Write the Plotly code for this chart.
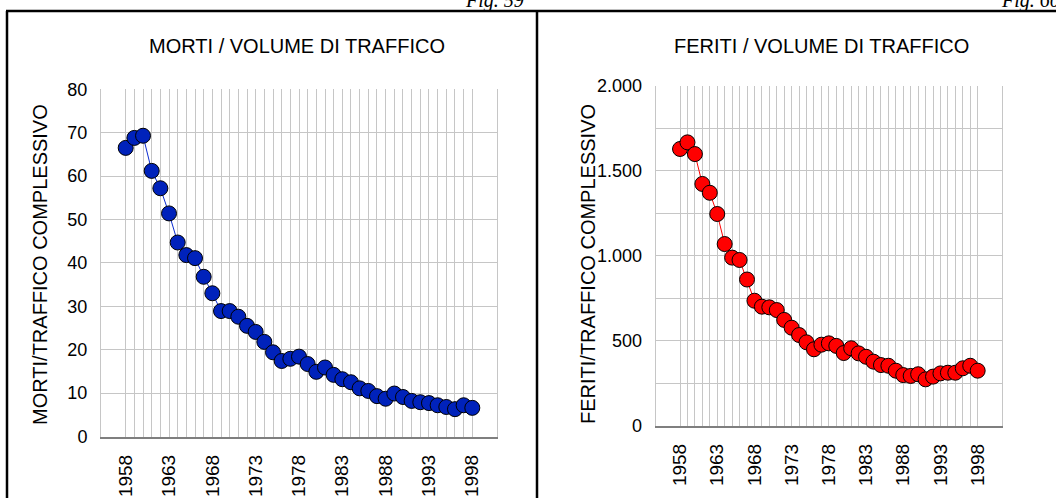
import plotly.graph_objects as go

# ---------------- data ----------------
years = list(range(1958, 1999))
morti = [66.5, 68.8, 69.3, 61.2, 57.2, 51.4, 44.7, 41.8, 41.1, 36.8,
         33.0, 28.9, 28.9, 27.6, 25.5, 24.1, 21.8, 19.4, 17.4, 17.9,
         18.4, 16.7, 14.9, 15.9, 14.2, 13.2, 12.5, 11.1, 10.5, 9.3,
         8.7, 9.9, 9.1, 8.2, 7.9, 7.7, 7.2, 6.8, 6.3, 7.2, 6.6]
feriti = [1629, 1668, 1599, 1423, 1371, 1246, 1069, 989, 975, 860,
          735, 700, 696, 680, 622, 576, 533, 490, 449, 476,
          484, 469, 427, 455, 425, 405, 376, 356, 352, 323,
          297, 292, 302, 272, 288, 307, 311, 311, 337, 352, 323]
x_tick_text = [str(y) if (y - 1958) % 5 == 0 else "" for y in years]
left_title = "MORTI / VOLUME DI TRAFFICO"
right_title = "FERITI / VOLUME DI TRAFFICO"
left_ytitle = "MORTI/TRAFFICO COMPLESSIVO"
right_ytitle = "FERITI/TRAFFICO COMPLESSIVO"
fig_labels = ["Fig. 59", "Fig. 60"]

W, H = 1056, 498
FONT = "Liberation Sans Narrow, Arial Narrow, Liberation Sans, Arial, sans-serif"
GRID = "#c6c6c6"


def px(x):
    return x / W


def py(y):
    return 1 - y / H


fig = go.Figure()
fig.add_trace(go.Scatter(
    x=years, y=morti, mode="lines+markers", xaxis="x", yaxis="y",
    line=dict(color="#0a2bd0", width=1),
    marker=dict(size=15, color="#0022bb", line=dict(color="#000000", width=1)),
    showlegend=False, cliponaxis=False))
fig.add_trace(go.Scatter(
    x=years, y=feriti, mode="lines+markers", xaxis="x2", yaxis="y2",
    line=dict(color="#ff0000", width=1),
    marker=dict(size=15, color="#ff0000", line=dict(color="#000000", width=1)),
    showlegend=False, cliponaxis=False))

common_x = dict(
    tickmode="array", tickvals=years, ticktext=x_tick_text, tickangle=-90,
    showgrid=True, gridcolor=GRID, gridwidth=1, zeroline=False,
    showline=True, linecolor="#7f7f7f", linewidth=1.5, ticks="",
    tickfont=dict(family=FONT, size=19, color="#000"),
    ticklabelstandoff=9, automargin=False,
)
common_y = dict(
    showgrid=True, gridcolor=GRID, gridwidth=1, zeroline=False,
    showline=True, linecolor=GRID, linewidth=1, mirror=True, ticks="",
    tickfont=dict(family=FONT, size=18, color="#000"),
    ticklabelstandoff=9, automargin=False,
)

fig.update_layout(
    template="none",
    width=W, height=H,
    margin=dict(l=0, r=0, t=0, b=0, autoexpand=False),
    paper_bgcolor="white", plot_bgcolor="white",
    separators=",.",
    xaxis=dict(domain=[px(101), px(497)], range=[1955.15, 2000.85],
               anchor="y", **common_x),
    yaxis=dict(domain=[py(436.5), py(89.3)], range=[0, 80], dtick=10,
               anchor="x", **common_y),
    xaxis2=dict(domain=[px(655.7), px(1002)], range=[1954.73, 2001.27],
                anchor="y2", **common_x),
    yaxis2=dict(domain=[py(425.5), py(86)], range=[0, 2000], dtick=500,
                tickformat=",d", anchor="x2",
                minor=dict(dtick=250, showgrid=True, gridcolor=GRID, gridwidth=1),
                **common_y),
)

ann = []
ann.append(dict(text=left_title, x=px(297), y=py(46), xref="paper", yref="paper",
                xanchor="center", yanchor="middle", showarrow=False,
                font=dict(family=FONT, size=20, color="#000")))
ann.append(dict(text=right_title, x=px(821), y=py(46), xref="paper", yref="paper",
                xanchor="center", yanchor="middle", showarrow=False,
                font=dict(family=FONT, size=20, color="#000")))
ann.append(dict(text=left_ytitle, x=px(40), y=py(265), xref="paper", yref="paper",
                xanchor="center", yanchor="middle", showarrow=False, textangle=-90,
                font=dict(family=FONT, size=20, color="#000")))
ann.append(dict(text=right_ytitle, x=px(588), y=py(264), xref="paper", yref="paper",
                xanchor="center", yanchor="middle", showarrow=False, textangle=-90,
                font=dict(family=FONT, size=20, color="#000")))
ann.append(dict(text=fig_labels[0], x=px(526), y=py(14), xref="paper", yref="paper",
                xanchor="right", yanchor="bottom", showarrow=False,
                font=dict(family="Liberation Serif, serif", size=20, color="#000",
                          style="italic")))
ann.append(dict(text=fig_labels[1], x=px(1062), y=py(14), xref="paper", yref="paper",
                xanchor="right", yanchor="bottom", showarrow=False,
                font=dict(family="Liberation Serif, serif", size=20, color="#000",
                          style="italic")))
fig.update_layout(annotations=ann)

shapes = [
    dict(type="line", xref="paper", yref="paper", x0=px(7), x1=px(7), y0=0, y1=py(11),
         line=dict(color="#000", width=2.5)),
    dict(type="line", xref="paper", yref="paper", x0=px(537), x1=px(537), y0=0, y1=py(11),
         line=dict(color="#000", width=2.5)),
    dict(type="line", xref="paper", yref="paper", x0=px(6), x1=1.01, y0=py(11), y1=py(11),
         line=dict(color="#000", width=2.5)),
]
fig.update_layout(shapes=shapes)

fig.write_html("out.html", config={"displayModeBar": False},
               post_script="document.body.style.margin='0';document.body.style.overflow='hidden';")
